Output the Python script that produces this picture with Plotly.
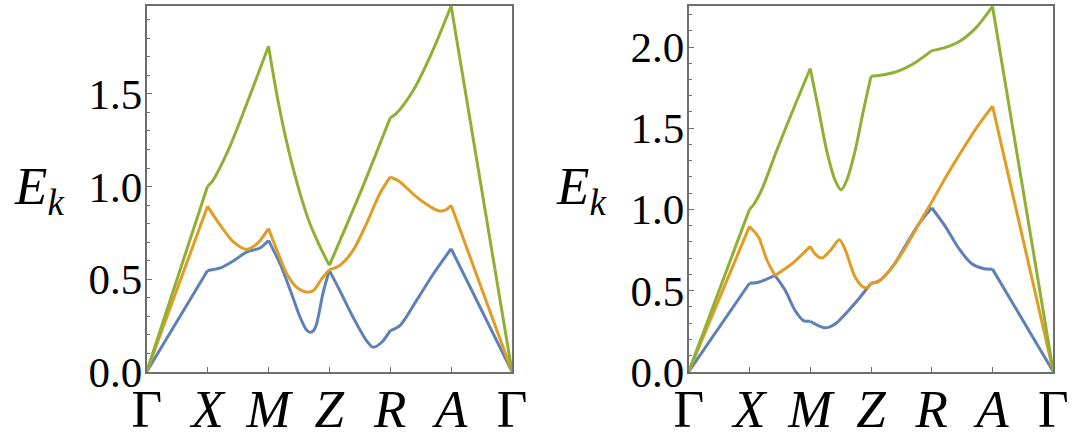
import plotly.graph_objects as go

# High-symmetry path: Γ X M Z R A Γ at positions 0..6
path_ticks = [0, 1, 2, 3, 4, 5, 6]
path_labels = ["Γ", "<i>X</i>", "<i>M</i>", "<i>Z</i>", "<i>R</i>", "<i>A</i>", "Γ"]

# ---------------- left panel ----------------
left_blue_x = [0, 1, 1.21, 1.43, 1.64, 1.86, 2, 2.19, 2.36, 2.52, 2.62, 2.68, 2.74, 2.79, 2.9, 3,
               3.17, 3.39, 3.61, 3.72, 3.86, 4, 4.16, 4.43, 4.71, 5, 6]
left_blue_y = [0, 0.547, 0.561, 0.60, 0.646, 0.668, 0.709, 0.583, 0.439, 0.294, 0.228, 0.213, 0.222, 0.258, 0.43, 0.547,
               0.439, 0.294, 0.168, 0.132, 0.159, 0.222, 0.249, 0.384, 0.529, 0.664, 0]

left_orange_x = [0, 1, 1.21, 1.43, 1.64, 1.81, 2, 2.14, 2.30, 2.46, 2.63, 2.74, 2.87, 3,
                 3.17, 3.39, 3.61, 3.83, 4, 4.16, 4.43, 4.71, 4.81, 4.92, 5, 6]
left_orange_y = [0, 0.893, 0.79, 0.70, 0.661, 0.69, 0.773, 0.655, 0.529, 0.457, 0.43, 0.439, 0.50, 0.551,
                 0.574, 0.655, 0.80, 0.962, 1.052, 1.025, 0.944, 0.881, 0.868, 0.875, 0.899, 0]

left_green_x = [0, 1, 1.07, 1.34, 1.67, 2, 2.17, 2.33, 2.52, 2.68, 2.85, 3,
                3.5, 4, 4.1, 4.38, 4.68, 5, 6]
left_green_y = [0, 1.002, 1.025, 1.197, 1.47, 1.758, 1.44, 1.197, 0.962, 0.80, 0.673, 0.574,
                0.96, 1.371, 1.395, 1.52, 1.72, 1.975, 0]
left_kinks = []

# ---------------- right panel ----------------
right_blue_x = [0, 1, 1.15, 1.42, 1.59, 1.75, 1.89, 2, 2.08, 2.25, 2.41, 2.63, 2.82, 3,
                3.13, 3.35, 3.57, 3.79, 4, 4.23, 4.45, 4.66, 4.86, 5, 6]
right_blue_y = [0, 0.545, 0.551, 0.593, 0.5, 0.377, 0.315, 0.311, 0.294, 0.27, 0.294, 0.377, 0.459, 0.545,
                0.558, 0.644, 0.778, 0.912, 1.01, 0.891, 0.757, 0.665, 0.634, 0.632, 0]

right_orange_x = [0, 1, 1.15, 1.29, 1.42, 1.70, 2, 2.08, 2.19, 2.33, 2.48, 2.58, 2.74, 2.88, 2.95, 3,
                  3.13, 3.35, 3.57, 3.79, 4, 4.25, 4.5, 4.75, 5, 6]
right_orange_y = [0, 0.895, 0.829, 0.685, 0.593, 0.665, 0.772, 0.726, 0.70, 0.747, 0.813, 0.747, 0.582, 0.52, 0.52, 0.545,
                  0.558, 0.644, 0.767, 0.912, 1.045, 1.21, 1.364, 1.51, 1.636, 0]

right_green_x = [0, 1, 1.07, 1.2, 1.45, 1.72, 2, 2.14, 2.27, 2.41, 2.51, 2.6, 2.74, 2.87, 3,
                 3.25, 3.5, 3.75, 4, 4.2, 4.46, 4.73, 5, 6]
right_green_y = [0, 1.0, 1.03, 1.12, 1.364, 1.615, 1.868, 1.61, 1.364, 1.179, 1.121, 1.179, 1.364, 1.6, 1.82,
                 1.832, 1.86, 1.91, 1.978, 1.995, 2.036, 2.12, 2.25, 0]
right_kinks = [1.42]

left_ymax = 1.975
right_ymax = 2.253

BLUE = "#5E81B5"
ORANGE = "#E19C24"
GREEN = "#8FB032"
FRAME = "#6e6e6e"
SERIF = "Liberation Serif"


def segments(xs, ys, kinks):
    segs = []
    cx, cy = [xs[0]], [ys[0]]
    for x, y in zip(xs[1:], ys[1:]):
        cx.append(x)
        cy.append(y)
        if float(x).is_integer() or x in kinks:
            segs.append((cx, cy))
            cx, cy = [x], [y]
    if len(cx) > 1:
        segs.append((cx, cy))
    return segs


fig = go.Figure()

panels = [
    ("x", "y", left_kinks, [(left_blue_x, left_blue_y, BLUE),
                            (left_orange_x, left_orange_y, ORANGE),
                            (left_green_x, left_green_y, GREEN)]),
    ("x2", "y2", right_kinks, [(right_blue_x, right_blue_y, BLUE),
                               (right_orange_x, right_orange_y, ORANGE),
                               (right_green_x, right_green_y, GREEN)]),
]

for xa, ya, kinks, bands in panels:
    for bx, by, col in bands:
        for sx, sy in segments(bx, by, kinks):
            fig.add_trace(go.Scatter(
                x=sx, y=sy, xaxis=xa, yaxis=ya, mode="lines",
                line=dict(color=col, width=3, shape="spline", smoothing=0.8),
                showlegend=False, hoverinfo="skip"))

ydom = [(434 - 371.7) / 434, (434 - 6) / 434]

xcommon = dict(
    range=[0, 6], tickmode="array", tickvals=path_ticks, ticktext=path_labels,
    ticks="inside", ticklen=5, tickwidth=1, tickcolor=FRAME,
    showline=True, linecolor=FRAME, linewidth=1.6, mirror=True,
    showgrid=False, zeroline=False, automargin=False,
    tickfont=dict(family=SERIF, size=53, color="black"),
    ticklabelstandoff=-10,
)
ycommon = dict(
    tickmode="linear", tick0=0, dtick=0.5, tickformat=".1f",
    ticks="inside", ticklen=5, tickwidth=1, tickcolor=FRAME,
    minor=dict(dtick=0.1, ticks="inside", ticklen=3.5, tickwidth=1, tickcolor=FRAME),
    showline=True, linecolor=FRAME, linewidth=1.6, mirror=True,
    showgrid=False, zeroline=False, automargin=False,
    tickfont=dict(family=SERIF, size=43, color="black"),
    ticklabelstandoff=-6,
)

fig.update_layout(
    width=1073, height=434,
    margin=dict(l=0, r=0, t=0, b=0, autoexpand=False),
    paper_bgcolor="white", plot_bgcolor="white",
    xaxis=dict(domain=[146.7 / 1073, 512 / 1073], anchor="y", **xcommon),
    xaxis2=dict(domain=[688.7 / 1073, 1053.3 / 1073], anchor="y2", **xcommon),
    yaxis=dict(domain=ydom, anchor="x", range=[0, left_ymax], **ycommon),
    yaxis2=dict(domain=ydom, anchor="x2", range=[0, right_ymax], **ycommon),
    annotations=[
        dict(text="<i>E</i><sub><i>k</i></sub>", x=39 / 1073, y=(434 - 190) / 434,
             xref="paper", yref="paper", showarrow=False, xanchor="center", yanchor="middle",
             font=dict(family=SERIF, size=53, color="black")),
        dict(text="<i>E</i><sub><i>k</i></sub>", x=581 / 1073, y=(434 - 190) / 434,
             xref="paper", yref="paper", showarrow=False, xanchor="center", yanchor="middle",
             font=dict(family=SERIF, size=53, color="black")),
    ],
)

fig.write_html(
    "out.html",
    config={"displayModeBar": False},
    post_script="document.body.style.margin='0';document.body.style.overflow='hidden';",
)
